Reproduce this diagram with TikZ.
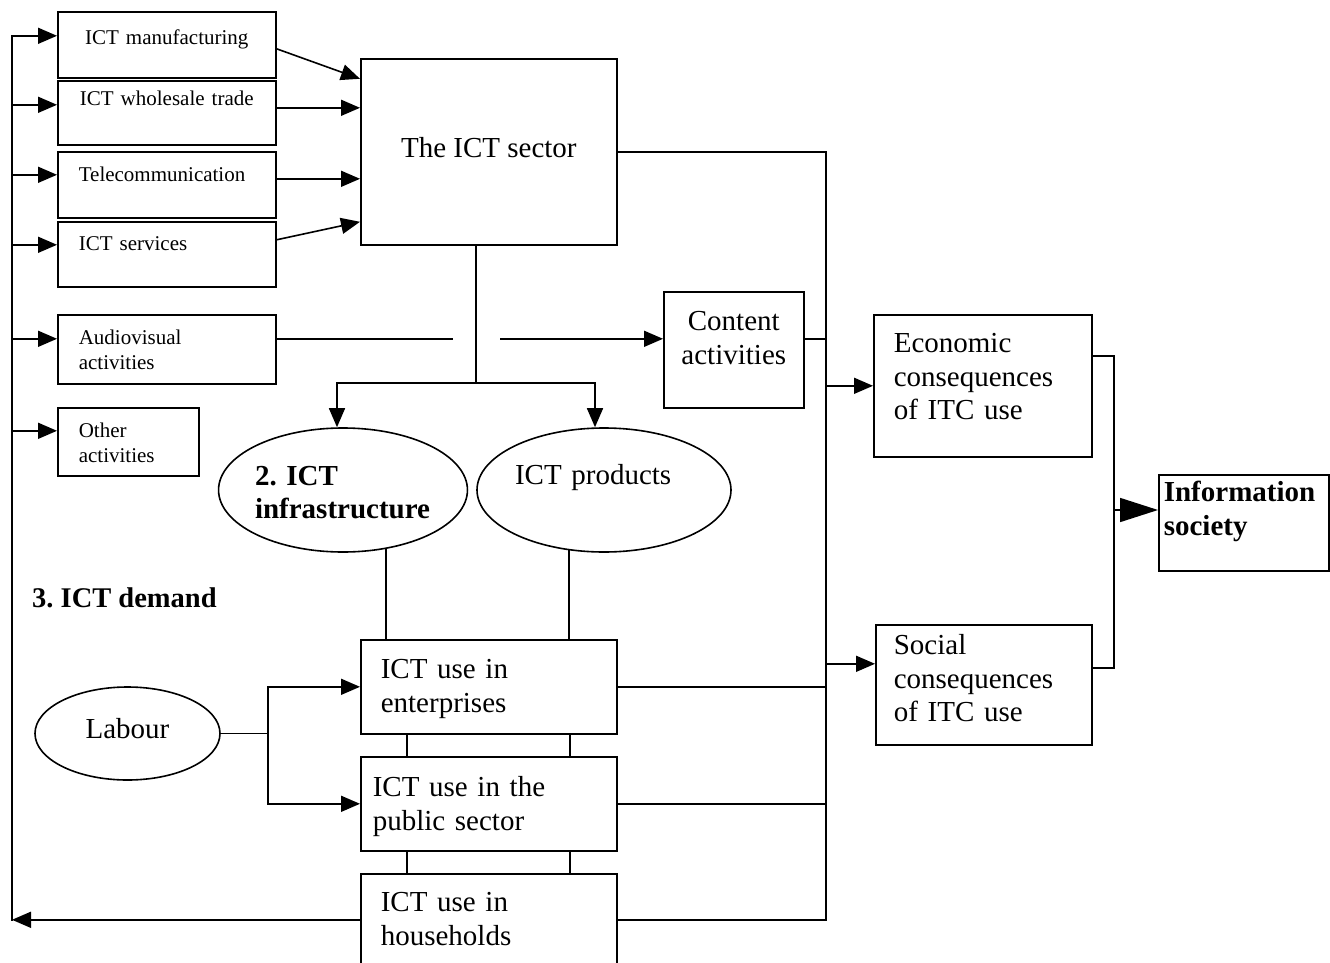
\documentclass[tikz,border=0pt]{standalone}
\usepackage{fontspec}
\setmainfont{Liberation Serif}
\usetikzlibrary{arrows.meta,shapes.geometric}
\frenchspacing

\tikzset{
  wire/.style={line width=1.6pt},
  box/.style={draw,line width=1.6pt,anchor=north west,inner sep=0pt,text height=20pt,font=\fontsize{29}{33.5}\selectfont},
  sbox/.style={box,text height=14.5pt,font=\fontsize{21}{25}\selectfont},
  oval/.style={draw,ellipse,line width=1.6pt,inner sep=0pt,text height=20pt,font=\fontsize{29}{33.5}\selectfont},
}

\begin{document}
\begin{tikzpicture}[x=1pt,y=-1pt,>={Triangle[length=19pt,width=16pt]}]
\useasboundingbox (0,0) rectangle (1330,963);
% sector parts
\node[sbox,minimum width=218pt,minimum height=66pt,text width=218pt,align=center,text depth=14.5pt] (manu) at (57,11) {ICT manufacturing};
\node[sbox,minimum width=218pt,minimum height=64pt,text width=218pt,align=center,text depth=28.5pt] (whole) at (57,80) {ICT wholesale trade};
\node[sbox,minimum width=218pt,minimum height=66pt,text width=176pt,align=left,text depth=20.5pt] (tele) at (57,151) {Telecommunication};
\node[sbox,minimum width=218pt,minimum height=65pt,text width=176pt,align=left,text depth=21.5pt] (serv) at (57,221) {ICT services};
\node[sbox,minimum width=218pt,minimum height=69pt,text width=176pt,align=left,text depth=23.5pt] (audio) at (57,314) {Audiovisual\\activities};
\node[sbox,minimum width=141pt,minimum height=68pt,text width=99pt,align=left,text depth=22.5pt] (other) at (57,407) {Other\\activities};
\node[box,minimum width=256pt,minimum height=186pt,text depth=8pt] (sector) at (360,58) {The ICT sector};
\node[box,minimum width=140pt,minimum height=116pt,text width=140pt,align=center,text depth=58pt] (content) at (663,291) {Content\\activities};
% products and infrastructure
\node[oval,minimum width=248pt,minimum height=124pt,text width=176pt,align=left,text depth=30pt,font=\fontsize{29}{33.5}\selectfont\bfseries] (infra) at (343,490) {2. ICT\\infrastructure};
\node[oval,minimum width=254pt,minimum height=124pt,text width=178pt,align=left,text depth=32pt] (prod) at (604,490) {ICT products};
% demand
\node[anchor=base west,inner sep=0pt,font=\fontsize{28.5}{33.5}\selectfont\bfseries] (demand) at (32,607) {3. ICT demand};
\node[oval,minimum width=185pt,minimum height=93pt,text depth=11pt] (labour) at (127.5,733.5) {Labour};
\node[box,minimum width=256pt,minimum height=94pt,text width=216pt,align=left,text depth=36pt] (enter) at (360,639) {ICT use in\\enterprises};
\node[box,minimum width=256pt,minimum height=94pt,text width=232pt,align=left,text depth=34pt] (public) at (360,756) {ICT use in the\\public sector};
\node[box,minimum width=256pt,minimum height=92pt,text width=216pt,align=left,text depth=36pt] (house) at (360,873) {ICT use in\\households};
% consequences
\node[box,minimum width=218pt,minimum height=142pt,text width=178pt,align=left,text depth=86pt] (econ) at (873,314) {Economic\\consequences\\of ITC use};
\node[box,minimum width=216pt,minimum height=120pt,text width=180pt,align=left,text depth=80pt] (social) at (875,624) {Social\\consequences\\of ITC use};
\node[box,minimum width=170pt,minimum height=96pt,text width=160pt,align=left,text depth=62pt,font=\fontsize{29}{33.5}\selectfont\bfseries] (info) at (1158,474) {Information\\society};

\coordinate (lbus) at (12,0);
\coordinate (rbus) at (826,0);
\coordinate (fork) at (476,383);
\coordinate (merge) at (1114,510);

% feedback loop on the left
\foreach \b/\dy in {manu/9,whole/8,tele/10,serv/9.5,audio/10.5,other/11}{
  \coordinate (\b-in) at ([yshift=\dy pt]\b.west);
  \draw[wire,->] (lbus |- \b-in) -- (\b-in);
}
\draw[wire,line cap=rect] (lbus |- manu-in) -- (lbus |- house.west);
\draw[wire,->] (house.west) -- (lbus |- house.west);

% into the sector
\draw[wire,->] ([yshift=-4pt]manu.east) -- ([yshift=73pt]sector.west);
\draw[wire,->] ([yshift=5pt]whole.east) -- ([yshift=44pt]sector.west);
\draw[wire,->] ([yshift=6pt]tele.east) -- ([yshift=-27pt]sector.west);
\draw[wire,->] ([yshift=14.5pt]serv.east) -- ([yshift=-70pt]sector.west);

\draw[wire] (sector.south -| fork) -- (fork);
\draw[wire,->] (fork) -| ([xshift=-6pt]infra.north);
\draw[wire,->] (fork) -| ([xshift=-9pt]prod.north);

\coordinate (audio-out) at ([yshift=10.5pt]audio.east);
\draw[wire] (audio-out) -- ([xshift=-23pt]fork |- audio-out);
\draw[wire,->] ([xshift=24pt]fork |- audio-out) -- (content.west |- audio-out);

% right bus
\coordinate (content-out) at ([yshift=11pt]content.east);
\draw[wire] (sector.east) -- (rbus |- sector.east) -- (rbus |- house.east) -- (house.east);
\draw[wire] (content-out) -- (rbus |- content-out);
\draw[wire] (enter.east) -- (rbus |- enter.east);
\draw[wire] (public.east) -- (rbus |- public.east);
\coordinate (social-in) at ([yshift=21pt]social.west);
\draw[wire,->] (rbus |- econ.west) -- (econ.west);
\draw[wire,->] (rbus |- social-in) -- (social-in);

\coordinate (econ-out) at ([yshift=30pt]econ.east);
\coordinate (social-out) at ([yshift=17pt]social.east);
\draw[wire] (econ-out) -| (merge) |- (social-out);
\draw[wire,-{Triangle[length=38pt,width=24pt]}] (merge) -- (info.west |- merge);

% use levels
\draw[wire] (infra.-54) -- (infra.-54 |- enter.north);
\draw[wire] (prod.-120) -- (prod.-120 |- enter.north);
\foreach \dx in {47,210}{
  \draw[wire] ([xshift=\dx pt]enter.south west) -- ([xshift=\dx pt]public.north west);
  \draw[wire] ([xshift=\dx pt]public.south west) -- ([xshift=\dx pt]house.north west);
}

\coordinate (lab-fork) at ([xshift=47pt]labour.east);
\draw[wire] (labour.east) -- (lab-fork);
\draw[wire,->] (lab-fork) |- (enter.west);
\draw[wire,->] (lab-fork) |- (public.west);
\end{tikzpicture}
\end{document}
